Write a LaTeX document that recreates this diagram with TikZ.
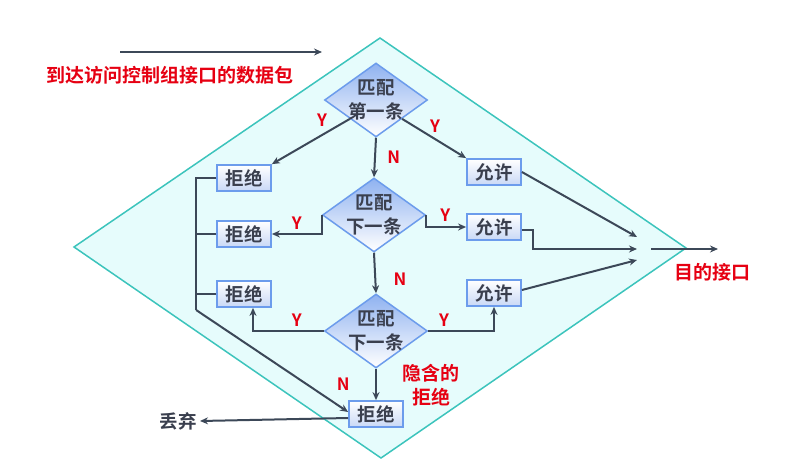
\documentclass[tikz,border=0pt]{standalone}
\usepackage{fontspec}
\setmainfont{Noto Sans CJK SC}[BoldFont={Noto Sans CJK SC Bold}]
\usetikzlibrary{shapes.geometric,arrows.meta}
\definecolor{lineclr}{HTML}{3C4858}
\definecolor{txtclr}{HTML}{3A3F4E}
\definecolor{boxedge}{HTML}{6C9CEC}
\definecolor{dtop}{HTML}{8FB2F0}
\definecolor{btm}{HTML}{C9D8F6}
\definecolor{bgfill}{HTML}{E6FCFC}
\definecolor{bgedge}{HTML}{3CC4BC}
\definecolor{redclr}{HTML}{E60012}
\begin{document}
\begin{tikzpicture}[x=1pt,y=-1pt,
  flow/.style={draw=lineclr, line width=2pt, ->, >={Stealth[length=8pt,width=7pt]}},
  bus/.style={draw=lineclr, line width=2pt},
  matchd/.style={diamond, draw=boxedge, line width=1.5pt, top color=dtop, bottom color=white,
    minimum width=103pt, minimum height=74pt, inner sep=0pt},
  dlabel/.style={align=center, text=txtclr, font=\fontsize{18.5}{24}\selectfont\bfseries},
  act/.style={rectangle, draw=boxedge, line width=1.8pt, top color=white, bottom color=btm,
    minimum width=54pt, minimum height=26pt, inner sep=0pt, text=txtclr,
    font=\fontsize{18.5}{20}\selectfont\bfseries},
  yn/.style={text=redclr, font=\fontsize{17}{18}\selectfont\bfseries},
  note/.style={text=redclr, align=center, font=\fontsize{19}{24}\selectfont\bfseries}]
  \useasboundingbox (0,0) rectangle (809,461);

  % Background
  \draw[bgedge, fill=bgfill, line width=1.5pt] (380,38) -- (686,248) -- (381,458) -- (74,247) -- cycle;

  % Incoming packet
  \coordinate (src1) at (120,52);
  \coordinate (src2) at (322,52);
  \draw[flow] (src1) -- (src2);
  \node[note] (pkt) at (170,75) {到达访问控制组接口的数据包};

  % Decisions
  \node[matchd, label={[dlabel]center:{匹配\\第一条}}] (D1) at (376,100) {};
  \node[matchd, label={[dlabel]center:{匹配\\下一条}}] (D2) at (374,215) {};
  \node[matchd, label={[dlabel]center:{匹配\\下一条}}] (D3) at (376,331) {};

  % Actions
  \node[act] (R1) at (244,178) {拒绝};
  \node[act] (R2) at (244,234) {拒绝};
  \node[act] (R3) at (244,294) {拒绝};
  \node[act] (RF) at (376,414) {拒绝};
  \node[act] (A1) at (494,172) {允许};
  \node[act] (A2) at (494,227) {允许};
  \node[act] (A3) at (494,293) {允许};

  % Matches
  \draw[flow] (D1.south west) -- (R1.north east) node[yn, pos=0.25, above left=-1pt] {Y};
  \draw[flow] (D1.south east) -- (A1.north west) node[yn, pos=0.4, above right=-2pt] {Y};
  \draw[flow] (D1.south) -- (D2.north) node[yn, midway, right=8pt] {N};
  \draw[flow] (D2.west) |- (R2.east) node[yn, pos=0.75, above] {Y};
  \draw[flow] (D2.east) |- (A2.west) node[yn, pos=0.74, above=1pt] {Y};
  \draw[flow] (D2.south) -- (D3.north) node[yn, pos=0.65, right=14pt] {N};
  \draw[flow] (D3.west) -| ([xshift=9pt]R3.south) node[yn, pos=0.19, above] {Y};
  \draw[flow] (D3.east) -| (A3.south) node[yn, pos=0.12, above] {Y};
  \draw[flow] (D3.south) -- (RF.north) node[yn, midway, left=22pt] {N};
  \node[note] (impl) at (431,385) {隐含的\\拒绝};

  % Deny path
  \draw[bus] (R1.west) -- ++(-20,0) coordinate (b1) -- (b1 |- 0,310) coordinate (b2);
  \draw[bus] (R2.west) -- (b1 |- R2.west);
  \draw[bus] (R3.west) -- (b1 |- R3.west);
  \draw[flow] (b2) -- ([yshift=2pt]RF.west);
  \node[text=txtclr, font=\fontsize{18.5}{20}\selectfont\bfseries] (drop) at (178,421) {丢弃};
  \draw[flow] ([yshift=-4pt]RF.west) -- (drop.east);

  % Permit path
  \coordinate (m1) at (637,237);
  \coordinate (m2) at (637,249);
  \coordinate (m3) at (637,260);
  \draw[flow] (A1.east) -- (m1);
  \draw[flow] ([yshift=-3pt]A2.east) -- ++(11,0) |- (m2);
  \draw[flow] ([yshift=3pt]A3.east) -- (m3);
  \coordinate (out1) at (651,249);
  \coordinate (out2) at (718,249);
  \draw[flow] (out1) -- (out2);
  \node[note] (dest) at (712,272) {目的接口};
\end{tikzpicture}
\end{document}
